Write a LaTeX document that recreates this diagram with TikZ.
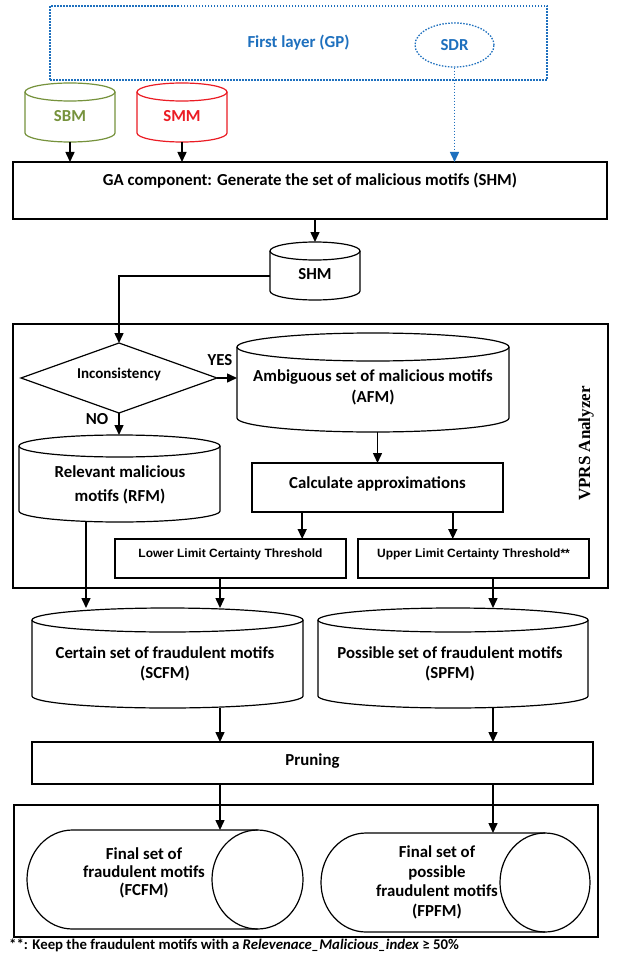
\documentclass[tikz,border=0pt]{standalone}
\usepackage{fontspec}
\setmainfont{Carlito}
\newfontfamily\arialf{Liberation Sans}
\newfontfamily\timesf{Liberation Serif}
\usetikzlibrary{arrows.meta,shapes.geometric,calc}
\definecolor{olivec}{RGB}{118,146,60}
\definecolor{redc}{RGB}{235,28,36}
\definecolor{bluec}{RGB}{30,112,190}

\newcommand\rectnode[6]{\node[#6, minimum width={#4-#2}, minimum height={#5-#3}] (#1) at ({(#2+#4)/2},{-(#3+#5)/2}) {};}
\newcommand\cylV[7]{%
 \rectnode{#1}{#2}{#3}{#4}{#5}{ghost}
 \draw[#7] (#2,{-#3-#6}) -- (#2,{-#5+#6}) arc[start angle=180,end angle=360,x radius={(#4-#2)/2},y radius=#6] -- (#4,{-#3-#6});
 \draw[#7] ({(#2+#4)/2},{-#3-#6}) ellipse[x radius={(#4-#2)/2},y radius=#6];}
\newcommand\cylH[7]{%
 \rectnode{#1}{#2}{#3}{#4}{#5}{ghost}
 \draw[#7] ({#4-#6},-#3) -- ({#2+#6},-#3) arc[start angle=90,end angle=270,x radius=#6,y radius={(#5-#3)/2}] -- ({#4-#6},-#5);
 \draw[#7] ({#4-#6},{-(#3+#5)/2}) ellipse[x radius=#6,y radius={(#5-#3)/2}];}

\begin{document}
\begin{tikzpicture}[x=1pt,y=1pt,
  ghost/.style={rectangle,draw=none,inner sep=0pt,outer sep=0pt},
  boxs/.style={rectangle,draw,line width=1.3pt,inner sep=0pt,outer sep=0pt},
  cyl/.style={draw,line width=1.2pt},
  shapeline/.style={draw,line width=1.2pt},
  bluedot/.style={dash pattern=on 1.5pt off 1.5pt},
  arr/.style={line width=1.5pt,-{Triangle[length=10pt,width=9pt]}},
  txt/.style={font=\bfseries\fontsize{16.8}{20}\selectfont,inner sep=0pt,align=center},
  smalltxt/.style={font=\arialf\bfseries\fontsize{12}{14}\selectfont,inner sep=0pt}]
\fill[white] (0,0) rectangle (616,-960);
\useasboundingbox (0,0) rectangle (616,-960);

% first layer
\node[boxs,draw=bluec,bluedot,text=bluec,font=\bfseries\fontsize{16.8}{20}\selectfont,
  minimum width=497,minimum height=74] (layer) at (298.5,-43) {First layer (GP)};
\node[ellipse,draw=bluec,line width=1.3pt,bluedot,text=bluec,font=\bfseries\fontsize{16.8}{20}\selectfont,
  minimum width=79,minimum height=44,inner sep=0pt] (sdr) at (454.5,-45) {SDR};

\cylV{sbm}{25}{83}{115}{142}{9}{cyl,draw=olivec}
\node[txt,text=olivec] (sbmt) at (70,-116) {SBM};
\cylV{smm}{137}{83}{227}{142}{9}{cyl,draw=redc}
\node[txt,text=redc] (smmt) at (182,-116) {SMM};

\rectnode{ga}{13}{162}{607}{219}{boxs}
\node[txt] (gat) at (310,-181) {GA component: Generate the set of malicious motifs (SHM)};
\draw[arr] (sbm.south) -- (sbm.south |- ga.north);
\draw[arr] (smm.south) -- (smm.south |- ga.north);
\draw[arr,bluec,bluedot] (sdr.south) -- (sdr.south |- ga.north);

\cylV{shm}{270}{242}{360}{300}{9}{cyl}
\node[txt] (shmt) at (315,-274) {SHM};
\draw[arr] (shm.north |- ga.south) -- (shm.north);

% VPRS analyzer
\rectnode{vprs}{13}{324}{608}{588}{boxs}
\node[rotate=90,font=\timesf\bfseries\fontsize{17}{20}\selectfont,inner sep=0pt] (vprst) at (586,-443.5) {VPRS Analyzer};

\rectnode{dia}{21}{343}{217}{413}{ghost}
\draw[shapeline] (dia.north) -- (dia.east) -- (dia.south) -- (dia.west) -- cycle;
\node[txt,font=\bfseries\fontsize{15}{18}\selectfont] (diat) at (119,-374) {Inconsistency};
\draw[arr] ([yshift=-5pt]shm.west) -| (dia.north);

\cylV{afm}{237}{333}{509}{432}{14}{cyl}
\node[txt,font=\bfseries\fontsize{16.8}{21}\selectfont] (afmt) at (373,-387.5) {Ambiguous set of malicious motifs\\(AFM)};
\node[txt] (yes) at (220,-360) {YES};
\draw[arr] (dia.east) -- (dia.east -| afm.west);

\cylV{rfm}{19}{435}{220}{522}{11}{cyl}
\node[txt,font=\bfseries\fontsize{16.8}{24}\selectfont] (rfmt) at (120,-485) {Relevant malicious\\motifs (RFM)};
\node[txt] (no) at (97,-419) {NO};
\draw[arr] (dia.south) -- (dia.south |- rfm.north);

\rectnode{calc}{252}{463}{503}{512}{boxs}
\node[txt] (calct) at (377.5,-484) {Calculate approximations};
\draw[arr] (calc.north |- afm.south) -- (calc.north);

\rectnode{lower}{115}{539}{346}{578}{boxs}
\node[smalltxt] (lowert) at (230.5,-554) {Lower Limit Certainty Threshold};
\rectnode{upper}{358}{539}{589}{578}{boxs}
\node[smalltxt] (uppert) at (473.5,-554) {Upper Limit Certainty Threshold**};
\coordinate (cl) at ($(calc.south west)!0.2!(calc.south east)$);
\coordinate (cr) at ($(calc.south west)!0.8!(calc.south east)$);
\draw[arr] (cl) -- (cl |- lower.north);
\draw[arr] (cr) -- (cr |- upper.north);

% certain / possible sets
\cylV{scfm}{32}{608}{303}{708}{12}{cyl}
\node[txt] (scfmt) at (165,-663.5) {Certain set of fraudulent motifs\\(SCFM)};
\cylV{spfm}{318}{608}{588}{708}{12}{cyl}
\node[txt] (spfmt) at (450,-663.5) {Possible set of fraudulent motifs\\(SPFM)};
\coordinate (colA) at (86,0);
\coordinate (colL) at (220,0);
\coordinate (colR) at (493,0);
\draw[arr] (rfm.south -| colA) -- (scfm.north -| colA);
\draw[arr] (lower.south -| colL) -- (scfm.north -| colL);
\draw[arr] (upper.south -| colR) -- (spfm.north -| colR);

\rectnode{prune}{32}{742}{593}{784}{boxs}
\node[txt] (prunet) at (312.5,-761) {Pruning};
\draw[arr] (scfm.south -| colL) -- (prune.north -| colL);
\draw[arr] (spfm.south -| colR) -- (prune.north -| colR);

% final sets
\rectnode{final}{14}{805}{598}{937}{boxs}
\cylH{fcfm}{27}{830}{303}{929}{45.5}{cyl}
\cylH{fpfm}{321}{833}{590}{932}{45}{cyl}
\draw[arr] (prune.south -| colL) -- (fcfm.north -| colL);
\draw[arr] (prune.south -| colR) -- (fpfm.north -| colR);
\node[txt,font=\bfseries\fontsize{16.8}{18}\selectfont] (fcfmt) at (144,-873) {Final set of\\fraudulent motifs\\(FCFM)};
\node[txt,font=\bfseries\fontsize{16.8}{19.7}\selectfont] (fpfmt) at (437,-882.5) {Final set of\\possible\\fraudulent motifs\\(FPFM)};

\node[txt,anchor=west,font=\bfseries\fontsize{14.8}{18}\selectfont] (note) at (9,-945)
  {**: Keep the fraudulent motifs with a \textit{Relevenace\_Malicious\_index} ≥ 50\%};
\end{tikzpicture}
\end{document}
